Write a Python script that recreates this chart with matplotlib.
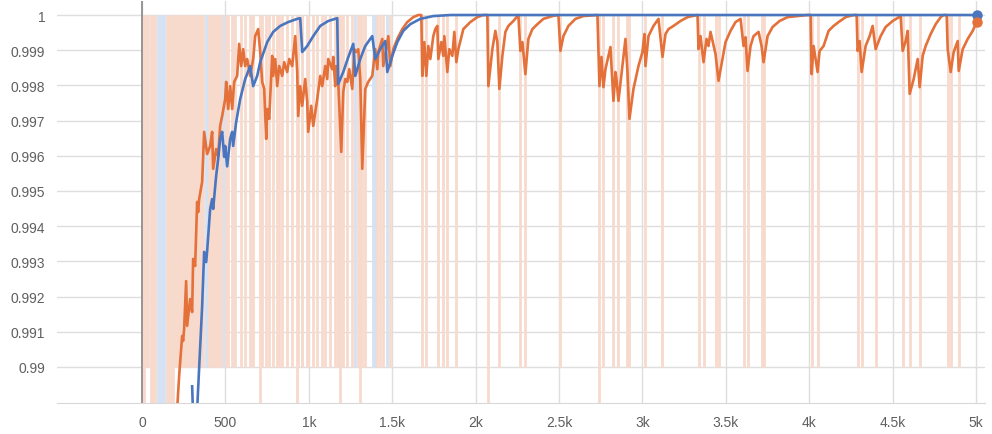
import matplotlib
matplotlib.use("Agg")
import matplotlib.pyplot as plt

# smoothed curves (tensorboard style)
orange_steps = [200, 222, 240, 246, 252, 264, 270, 288, 300, 306, 318, 330, 336, 342, 360, 366, 372, 390, 408, 420,
                426, 444, 456, 468, 480, 498, 504, 516, 528, 540, 552, 570, 582, 594, 606, 618, 630, 648, 666, 678,
                696, 708, 720, 732, 744, 750, 762, 780, 786, 798, 810, 822, 840, 852, 870, 882, 900, 918, 930, 936,
                948, 960, 978, 990, 996, 1014, 1026, 1050, 1068, 1080, 1098, 1110, 1116, 1140, 1146, 1158, 1164, 1176, 1194, 1206,
                1218, 1230, 1242, 1260, 1272, 1284, 1296, 1308, 1320, 1338, 1356, 1380, 1398, 1410, 1416, 1440, 1446, 1464, 1476, 1488,
                1506, 1530, 1560, 1590, 1626, 1656, 1674, 1680, 1692, 1704, 1716, 1728, 1746, 1758, 1770, 1776, 1794, 1806, 1812, 1830,
                1842, 1860, 1872, 1884, 1896, 1926, 1968, 2010, 2046, 2070, 2076, 2100, 2118, 2130, 2142, 2160, 2178, 2196, 2226, 2256,
                2268, 2280, 2298, 2316, 2340, 2370, 2406, 2460, 2496, 2508, 2526, 2556, 2598, 2646, 2730, 2742, 2754, 2766, 2778, 2808,
                2826, 2838, 2844, 2856, 2880, 2898, 2910, 2922, 2946, 2976, 3000, 3012, 3018, 3036, 3066, 3096, 3120, 3138, 3156, 3186,
                3228, 3270, 3330, 3336, 3348, 3366, 3384, 3396, 3408, 3438, 3456, 3480, 3498, 3528, 3558, 3588, 3606, 3618, 3630, 3648,
                3666, 3696, 3714, 3726, 3750, 3780, 3822, 3870, 3930, 3990, 4008, 4014, 4026, 4050, 4062, 4086, 4116, 4146, 4176, 4218,
                4266, 4284, 4290, 4302, 4314, 4338, 4362, 4380, 4398, 4428, 4458, 4500, 4548, 4560, 4578, 4590, 4602, 4626, 4650, 4662,
                4680, 4698, 4728, 4758, 4788, 4806, 4824, 4830, 4848, 4866, 4890, 4896, 4920, 4950, 4980, 5004]
orange_vals = [0.9880, 0.98974, 0.99088, 0.99074, 0.99108, 0.99244, 0.99117, 0.99193, 0.99156, 0.99307, 0.99287, 0.99469, 0.99440, 0.99477, 0.99526, 0.99600, 0.99668, 0.99605, 0.99628, 0.99668,
               0.99563, 0.99619, 0.99600, 0.99685, 0.99713, 0.99761, 0.99810, 0.99733, 0.99798, 0.99733, 0.99810, 0.99827, 0.99918, 0.99855, 0.99903, 0.99855, 0.99875, 0.99827, 0.99875, 0.99940,
               0.99960, 0.99895, 0.99810, 0.99790, 0.99648, 0.99733, 0.99705, 0.99884, 0.99827, 0.99875, 0.99798, 0.99855, 0.99827, 0.99866, 0.99838, 0.99875, 0.99855, 0.99940, 0.99838, 0.99713,
               0.99798, 0.99742, 0.99818, 0.99753, 0.99668, 0.99742, 0.99685, 0.99761, 0.99827, 0.99798, 0.99855, 0.99818, 0.99875, 0.99846, 0.99881, 0.99798, 0.99855, 0.99810, 0.99611, 0.99781,
               0.99818, 0.99810, 0.99846, 0.99790, 0.99903, 0.99895, 0.99903, 0.99818, 0.99563, 0.99790, 0.99810, 0.99827, 0.99903, 0.99846, 0.99895, 0.99932, 0.99855, 0.99903, 0.99940, 0.99855,
               0.99903, 0.99932, 0.99960, 0.99980, 0.99994, 1.0, 1.0, 0.99827, 0.99923, 0.99827, 0.99912, 0.99875, 0.99940, 0.99960, 0.99969, 0.99875, 0.99923, 0.99884, 0.99940, 0.99838,
               0.99903, 0.99884, 0.99952, 0.99866, 0.99903, 0.99960, 0.99980, 0.99994, 1.0, 1.0, 0.99798, 0.99903, 0.99955, 0.99923, 0.99790, 0.99884, 0.99952, 0.99969, 0.99983, 1.0,
               0.99898, 0.99923, 0.99832, 0.99932, 0.99960, 0.99974, 0.99989, 0.99997, 1.0, 0.99898, 0.99940, 0.99969, 0.99989, 0.99997, 1.0, 0.99798, 0.99881, 0.99795, 0.99846, 0.99909,
               0.99756, 0.99838, 0.99818, 0.99756, 0.99855, 0.99932, 0.99838, 0.99705, 0.99790, 0.99855, 0.99895, 0.99946, 0.99855, 0.99940, 0.99969, 0.99989, 0.99881, 0.99946, 0.99960, 0.99969,
               0.99983, 0.99994, 1.0, 0.99903, 0.99940, 0.99866, 0.99932, 0.99912, 0.99952, 0.99889, 0.99813, 0.99875, 0.99923, 0.99955, 0.99980, 0.99989, 0.99912, 0.99937, 0.99841, 0.99912,
               0.99940, 0.99952, 0.99912, 0.99866, 0.99940, 0.99966, 0.99983, 0.99994, 0.99997, 1.0, 1.0, 0.99832, 0.99912, 0.99838, 0.99898, 0.99912, 0.99955, 0.99969, 0.99980, 0.99994,
               1.0, 1.0, 0.99898, 0.99926, 0.99838, 0.99912, 0.99940, 0.99969, 0.99903, 0.99940, 0.99966, 0.99983, 0.99997, 0.99898, 0.99926, 0.99955, 0.99776, 0.99818, 0.99875, 0.99795,
               0.99884, 0.99912, 0.99946, 0.99974, 0.99994, 1.0, 1.0, 0.99903, 0.99838, 0.99895, 0.99926, 0.99841, 0.99903, 0.99932, 0.99955, 0.9998]

blue_steps = [300, 306, 330, 360, 372, 384, 390, 408, 420, 426, 444, 456, 468, 480, 492, 498, 510, 528, 540, 546,
              564, 588, 618, 648, 666, 690, 708, 750, 786, 828, 876, 930, 948, 960, 990, 1026, 1068, 1116, 1170, 1176,
              1206, 1236, 1266, 1278, 1308, 1338, 1380, 1398, 1428, 1458, 1470, 1500, 1530, 1566, 1608, 1668, 1746, 1848, 5004]
blue_vals = [0.98945, 0.9886, 0.9888, 0.99173, 0.99327, 0.99298, 0.99330, 0.99449, 0.99477, 0.99449, 0.99543, 0.99591, 0.99648, 0.99668, 0.99597, 0.99628, 0.99570, 0.99648, 0.99668, 0.99628,
             0.99696, 0.99761, 0.99818, 0.99855, 0.99798, 0.99827, 0.99866, 0.99923, 0.99952, 0.99969, 0.99980, 0.99989, 0.99991, 0.99895, 0.99912, 0.99940, 0.99969, 0.99983, 0.99991, 0.99804,
             0.99838, 0.99880, 0.99918, 0.99827, 0.99875, 0.99912, 0.99940, 0.99875, 0.99903, 0.99926, 0.99838, 0.99884, 0.99923, 0.99955, 0.99974, 0.99989, 0.99997, 1.0, 1.0]

# raw (unsmoothed) values: only the points that fall below 1
orange_raw_steps = [0, 12, 24, 36, 54, 66, 78, 150, 162, 174, 186, 198, 210, 222, 234, 246, 258, 270, 282, 294,
                    306, 318, 330, 342, 354, 366, 402, 414, 426, 438, 450, 462, 474, 504, 516, 540, 558, 594, 618, 648,
                    666, 708, 720, 744, 762, 786, 810, 822, 840, 870, 900, 930, 936, 960, 990, 996, 1026, 1050, 1080, 1098,
                    1128, 1158, 1176, 1188, 1194, 1206, 1230, 1260, 1296, 1308, 1320, 1338, 1410, 1428, 1446, 1488, 1680, 1704, 1776, 1806,
                    1830, 1884, 2076, 2142, 2268, 2298, 2508, 2742, 2766, 2826, 2856, 2910, 2922, 3018, 3120, 3336, 3366, 3438, 3456, 3606,
                    3630, 3714, 3726, 4014, 4050, 4290, 4314, 4398, 4560, 4602, 4662, 4830, 4848, 4896]
orange_raw_vals = [0.98, 0.98, 0.99, 0.99, 0.98, 0.98, 0.98, 0.98, 0.98, 0.98, 0.98, 0.99, 0.99, 0.99, 0.99, 0.99, 0.99, 0.99, 0.99, 0.99,
                   0.99, 0.99, 0.99, 0.99, 0.99, 0.99, 0.99, 0.99, 0.99, 0.99, 0.99, 0.99, 0.99, 0.99, 0.99, 0.99, 0.99, 0.99, 0.99, 0.99,
                   0.99, 0.98, 0.99, 0.99, 0.99, 0.99, 0.99, 0.99, 0.99, 0.99, 0.99, 0.98, 0.99, 0.99, 0.99, 0.99, 0.99, 0.99, 0.99, 0.99,
                   0.99, 0.99, 0.99, 0.98, 0.99, 0.99, 0.99, 0.99, 0.99, 0.98, 0.99, 0.99, 0.99, 0.99, 0.99, 0.99, 0.99, 0.99, 0.99, 0.99,
                   0.99, 0.99, 0.98, 0.99, 0.99, 0.99, 0.99, 0.98, 0.99, 0.99, 0.99, 0.99, 0.99, 0.99, 0.99, 0.99, 0.99, 0.99, 0.99, 0.99,
                   0.99, 0.99, 0.99, 0.99, 0.99, 0.99, 0.99, 0.99, 0.99, 0.99, 0.99, 0.99, 0.99, 0.99]
blue_raw_steps = [96, 108, 120, 132, 306, 318, 384, 390, 480, 492, 510, 546, 660, 960, 1176, 1278, 1386, 1398, 1470]
blue_raw_vals = [0.98, 0.98, 0.98, 0.98, 0.99, 0.99, 0.99, 0.99, 0.99, 0.99, 0.99, 0.99, 0.99, 0.99, 0.99, 0.99, 0.99, 0.99, 0.99]

xticks = [0, 500, 1000, 1500, 2000, 2500, 3000, 3500, 4000, 4500, 5000]
xtick_labels = ['0', '500', '1k', '1.5k', '2k', '2.5k', '3k', '3.5k', '4k', '4.5k', '5k']
yticks = [0.99, 0.991, 0.992, 0.993, 0.994, 0.995, 0.996, 0.997, 0.998, 0.999, 1.0]
ytick_labels = ['0.99', '0.991', '0.992', '0.993', '0.994', '0.995', '0.996', '0.997', '0.998', '0.999', '1']

orange = '#e4703a'
blue = '#4a76c0'

plt.rcParams['font.family'] = ['Liberation Sans', 'DejaVu Sans']

fig = plt.figure(figsize=(9.92, 4.35), dpi=100)
ax = fig.add_axes([0.0575, 0.0713, 0.9355, 0.9241])

# raw values, faint
ax.vlines(blue_raw_steps, blue_raw_vals, 1.0, colors='#d5e2f4', lw=2.0, zorder=1)
ax.vlines(orange_raw_steps, orange_raw_vals, 1.0, colors='#f8dacd', lw=2.0, zorder=1)

ax.axvline(0, color='#8f8f8f', lw=1.3, zorder=2)

# smoothed
ax.plot(blue_steps, blue_vals, color=blue, lw=1.9, zorder=4)
ax.plot(orange_steps, orange_vals, color=orange, lw=1.9, zorder=3)
ax.plot(blue_steps[-1], blue_vals[-1], 'o', color=blue, ms=6.5, zorder=5)
ax.plot(orange_steps[-1], orange_vals[-1], 'o', color=orange, ms=6.5, zorder=5)

ax.set_xlim(-510, 5054)
ax.set_ylim(0.988977, 1.000398)
ax.set_xticks(xticks)
ax.set_xticklabels(xtick_labels)
ax.set_yticks(yticks)
ax.set_yticklabels(ytick_labels)
ax.tick_params(length=0, labelsize=10, labelcolor='#5f5f5f')
ax.tick_params(axis='y', pad=8.5)
ax.tick_params(axis='x', pad=9)
ax.grid(color='#dedede', lw=1, zorder=0)
ax.set_axisbelow(True)
for s in ['top', 'right', 'left']:
    ax.spines[s].set_visible(False)
ax.spines['bottom'].set_color('#d8d8d8')

fig.savefig('out.png', dpi=100)
